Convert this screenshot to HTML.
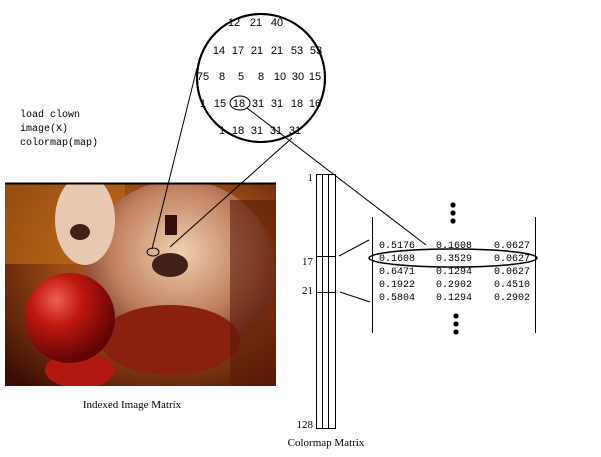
<!DOCTYPE html>
<html><head><meta charset="utf-8"><style>
html,body{margin:0;padding:0;background:#fff;}
svg{display:block;}
.m{font-family:"Liberation Mono",monospace;font-size:10px;}
.s{font-family:"Liberation Serif",serif;font-size:11px;}
.a{font-family:"Liberation Sans",sans-serif;font-size:11px;}
</style></head><body>
<svg width="601" height="457" viewBox="0 0 601 457" xmlns="http://www.w3.org/2000/svg">
<defs>
<radialGradient id="bg" cx="0.6" cy="0.4" r="0.8">
<stop offset="0" stop-color="#b0602a"/><stop offset="0.5" stop-color="#9a4a14"/><stop offset="1" stop-color="#3a0c04"/></radialGradient>
<radialGradient id="nose" cx="0.35" cy="0.3" r="0.7">
<stop offset="0" stop-color="#f06050"/><stop offset="0.4" stop-color="#c01810"/><stop offset="1" stop-color="#600404"/></radialGradient>
<radialGradient id="face" cx="0.5" cy="0.4" r="0.6">
<stop offset="0" stop-color="#f0d0b0"/><stop offset="0.6" stop-color="#c08060"/><stop offset="1" stop-color="#703020"/></radialGradient>
<clipPath id="cl"><rect x="5" y="184" width="271" height="202"/></clipPath>
</defs>
<text class="m" x="20" y="117">load clown</text>
<text class="m" x="20" y="131">image(X)</text>
<text class="m" x="20" y="145">colormap(map)</text>
<g clip-path="url(#cl)">
<rect x="5" y="184" width="271" height="202" fill="url(#bg)"/>
<rect x="5" y="184" width="120" height="80" fill="#c07018" opacity="0.6"/>
<ellipse cx="180" cy="270" rx="95" ry="90" fill="url(#face)"/>
<ellipse cx="85" cy="220" rx="30" ry="45" fill="#e8c8b0"/>
<ellipse cx="170" cy="340" rx="70" ry="35" fill="#8a2010"/>
<ellipse cx="80" cy="370" rx="35" ry="18" fill="#b01810"/>
<rect x="165" y="215" width="12" height="20" fill="#301008"/>
<ellipse cx="170" cy="265" rx="18" ry="12" fill="#402018"/>
<ellipse cx="80" cy="232" rx="10" ry="8" fill="#402018"/>
<ellipse cx="70" cy="318" rx="45" ry="45" fill="url(#nose)"/>
<rect x="230" y="200" width="46" height="186" fill="#5a1a08" opacity="0.6"/>
</g>
<line x1="5" y1="183.5" x2="276" y2="183.5" stroke="#000" stroke-width="2"/>
<ellipse cx="153" cy="252" rx="6" ry="4" fill="none" stroke="#000" stroke-width="1"/>
<line x1="197" y1="68" x2="152" y2="249" stroke="#000"/>
<line x1="292" y1="138" x2="170" y2="247" stroke="#000"/>
<circle cx="261" cy="78" r="64" fill="#fff" stroke="#000" stroke-width="2"/>
<g class="a" text-anchor="middle">
<text x="234" y="26">12</text><text x="256" y="26">21</text><text x="277" y="26">40</text>
<text x="219" y="54">14</text><text x="238" y="54">17</text><text x="257" y="54">21</text><text x="277" y="54">21</text><text x="297" y="54">53</text><text x="316" y="54">53</text>
<text x="203" y="80">75</text><text x="222" y="80">8</text><text x="241" y="80">5</text><text x="261" y="80">8</text><text x="280" y="80">10</text><text x="298" y="80">30</text><text x="315" y="80">15</text>
<text x="203" y="107">1</text><text x="220" y="107">15</text><text x="239" y="107">18</text><text x="258" y="107">31</text><text x="277" y="107">31</text><text x="297" y="107">18</text><text x="315" y="107">16</text>
<text x="222" y="134">1</text><text x="238" y="134">18</text><text x="257" y="134">31</text><text x="276" y="134">31</text><text x="295" y="134">31</text>
</g>
<circle cx="261" cy="78" r="64" fill="none" stroke="#000" stroke-width="2"/>
<ellipse cx="240" cy="103" rx="10" ry="7" fill="none" stroke="#000"/>
<line x1="247" y1="108" x2="426" y2="245" stroke="#000"/>
<rect x="316.5" y="174.5" width="19" height="254" fill="none" stroke="#000"/>
<line x1="322.5" y1="174" x2="322.5" y2="428" stroke="#000"/>
<line x1="328.5" y1="174" x2="328.5" y2="428" stroke="#000"/>
<line x1="316" y1="256.5" x2="336" y2="256.5" stroke="#000"/>
<line x1="316" y1="292.5" x2="336" y2="292.5" stroke="#000"/>
<g class="s" text-anchor="end">
<text x="313" y="181">1</text><text x="313" y="265">17</text><text x="313" y="294">21</text><text x="313" y="428">128</text>
</g>
<line x1="339" y1="256" x2="369" y2="240" stroke="#000"/>
<line x1="340" y1="292" x2="370" y2="302" stroke="#000"/>
<line x1="372.5" y1="217" x2="372.5" y2="333" stroke="#000"/>
<line x1="535.5" y1="217" x2="535.5" y2="333" stroke="#000"/>
<g fill="#000">
<circle cx="453" cy="205" r="2.6"/><circle cx="453" cy="213" r="2.6"/><circle cx="453" cy="221" r="2.6"/>
<circle cx="456" cy="316" r="2.6"/><circle cx="456" cy="324" r="2.6"/><circle cx="456" cy="332" r="2.6"/>
</g>
<g class="m">
<text x="379" y="248">0.5176</text><text x="436" y="248">0.1608</text><text x="494" y="248">0.0627</text>
<text x="379" y="261">0.1608</text><text x="436" y="261">0.3529</text><text x="494" y="261">0.0627</text>
<text x="379" y="274">0.6471</text><text x="436" y="274">0.1294</text><text x="494" y="274">0.0627</text>
<text x="379" y="287">0.1922</text><text x="436" y="287">0.2902</text><text x="494" y="287">0.4510</text>
<text x="379" y="300">0.5804</text><text x="436" y="300">0.1294</text><text x="494" y="300">0.2902</text>
</g>
<ellipse cx="453" cy="258" rx="84" ry="9" fill="none" stroke="#000" stroke-width="1.5"/>
<text class="s" x="132" y="408" text-anchor="middle">Indexed Image Matrix</text>
<text class="s" x="326" y="446" text-anchor="middle">Colormap Matrix</text>
</svg>
</body></html>
